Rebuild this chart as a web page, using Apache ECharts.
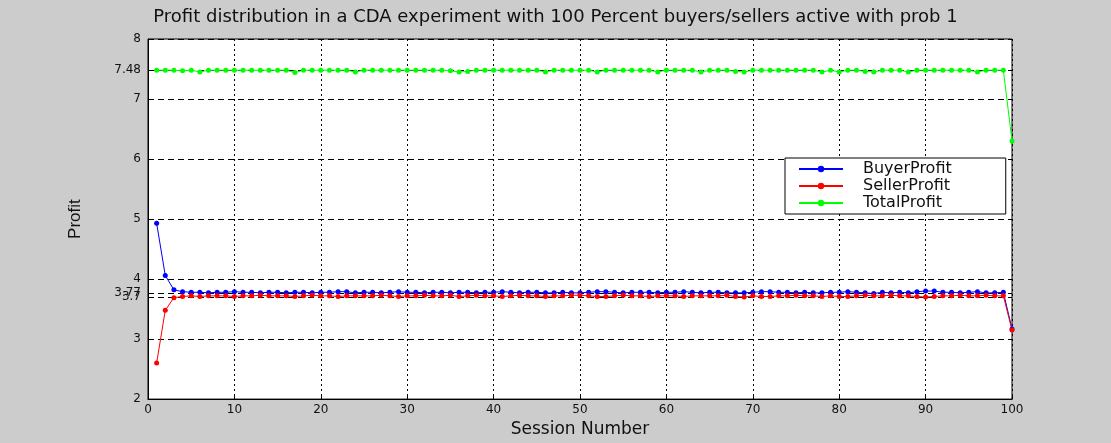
<!DOCTYPE html>
<html>
<head>
<meta charset="utf-8">
<script src="https://cdn.jsdelivr.net/npm/echarts@6/dist/echarts.min.js"></script>
<style>
  html, body { margin: 0; padding: 0; background: #cccccc; }
  #chart { width: 1111px; height: 443px; }
</style>
</head>
<body>
<div id="chart"></div>
<script>
// Session numbers 1..100
const sessions = [
  1, 2, 3, 4, 5, 6, 7, 8, 9, 10, 11, 12, 13, 14, 15, 16, 17, 18, 19, 20,
  21, 22, 23, 24, 25, 26, 27, 28, 29, 30, 31, 32, 33, 34, 35, 36, 37, 38, 39, 40,
  41, 42, 43, 44, 45, 46, 47, 48, 49, 50, 51, 52, 53, 54, 55, 56, 57, 58, 59, 60,
  61, 62, 63, 64, 65, 66, 67, 68, 69, 70, 71, 72, 73, 74, 75, 76, 77, 78, 79, 80,
  81, 82, 83, 84, 85, 86, 87, 88, 89, 90, 91, 92, 93, 94, 95, 96, 97, 98, 99, 100
];

const buyerProfit = [
  4.93, 4.06, 3.82, 3.79, 3.78, 3.78, 3.77, 3.78, 3.78, 3.79,
  3.78, 3.78, 3.77, 3.78, 3.78, 3.77, 3.78, 3.78, 3.77, 3.78,
  3.78, 3.79, 3.79, 3.77, 3.78, 3.78, 3.77, 3.78, 3.79, 3.78,
  3.78, 3.77, 3.78, 3.78, 3.77, 3.78, 3.78, 3.77, 3.78, 3.78,
  3.79, 3.78, 3.77, 3.78, 3.78, 3.77, 3.77, 3.78, 3.77, 3.77,
  3.78, 3.79, 3.79, 3.78, 3.77, 3.78, 3.78, 3.78, 3.77, 3.78,
  3.78, 3.79, 3.78, 3.77, 3.78, 3.78, 3.77, 3.77, 3.77, 3.78,
  3.79, 3.79, 3.78, 3.78, 3.77, 3.78, 3.77, 3.77, 3.78, 3.78,
  3.79, 3.78, 3.77, 3.76, 3.78, 3.77, 3.78, 3.77, 3.79, 3.80,
  3.80, 3.78, 3.78, 3.77, 3.78, 3.79, 3.77, 3.77, 3.78, 3.17
];

const sellerProfit = [
  2.60, 3.48, 3.69, 3.71, 3.72, 3.71, 3.72, 3.72, 3.72, 3.71,
  3.72, 3.72, 3.73, 3.72, 3.72, 3.72, 3.71, 3.72, 3.73, 3.72,
  3.72, 3.71, 3.72, 3.72, 3.72, 3.72, 3.73, 3.72, 3.71, 3.72,
  3.72, 3.73, 3.72, 3.72, 3.73, 3.71, 3.72, 3.73, 3.72, 3.72,
  3.71, 3.72, 3.73, 3.72, 3.72, 3.71, 3.72, 3.72, 3.73, 3.73,
  3.72, 3.71, 3.71, 3.72, 3.73, 3.72, 3.72, 3.71, 3.72, 3.72,
  3.72, 3.71, 3.72, 3.72, 3.72, 3.72, 3.73, 3.71, 3.70, 3.72,
  3.71, 3.71, 3.72, 3.72, 3.73, 3.72, 3.72, 3.71, 3.72, 3.71,
  3.71, 3.72, 3.73, 3.72, 3.72, 3.73, 3.72, 3.72, 3.71, 3.70,
  3.71, 3.72, 3.72, 3.73, 3.72, 3.72, 3.73, 3.72, 3.72, 3.15
];

const totalProfit = [
  7.48, 7.48, 7.48, 7.47, 7.48, 7.45, 7.48, 7.48, 7.48, 7.48,
  7.48, 7.48, 7.48, 7.48, 7.48, 7.48, 7.44, 7.48, 7.48, 7.48,
  7.48, 7.48, 7.48, 7.45, 7.48, 7.48, 7.48, 7.48, 7.48, 7.48,
  7.48, 7.48, 7.48, 7.48, 7.47, 7.45, 7.46, 7.48, 7.48, 7.48,
  7.48, 7.48, 7.48, 7.48, 7.48, 7.45, 7.48, 7.48, 7.48, 7.48,
  7.48, 7.45, 7.48, 7.48, 7.48, 7.48, 7.48, 7.48, 7.45, 7.48,
  7.48, 7.48, 7.48, 7.45, 7.48, 7.48, 7.48, 7.46, 7.45, 7.48,
  7.48, 7.48, 7.48, 7.48, 7.48, 7.48, 7.48, 7.45, 7.48, 7.45,
  7.48, 7.48, 7.46, 7.45, 7.48, 7.48, 7.48, 7.45, 7.48, 7.48,
  7.48, 7.48, 7.48, 7.48, 7.48, 7.45, 7.48, 7.48, 7.48, 6.30
];

// Tick positions
const xTicks = { min: 0, max: 100, step: 10 };
const yTicks = [2, 3, 3.7, 3.77, 4, 5, 6, 7, 7.48, 8];

const pairs = (ys) => sessions.map((s, i) => [s, ys[i]]);

const labelFont = 'DejaVu Sans, Liberation Sans, sans-serif';

function lineSeries(name, color, ys) {
  return {
    name: name,
    type: 'line',
    data: pairs(ys),
    symbol: 'circle',
    symbolSize: 5,
    showAllSymbol: true,
    lineStyle: { color: color, width: 1 },
    itemStyle: { color: color },
    emphasis: { disabled: true },
    animation: false
  };
}

const chart = echarts.init(document.getElementById('chart'), null, { renderer: 'canvas' });

chart.setOption({
  backgroundColor: '#cccccc',
  animation: false,
  title: {
    text: 'Profit distribution in a CDA experiment with 100 Percent buyers/sellers active with prob 1',
    left: 'center',
    top: 8,
    padding: 0,
    textStyle: { fontFamily: labelFont, fontSize: 18, fontWeight: 'normal', color: '#111' }
  },
  legend: {
    orient: 'vertical',
    left: 785,
    top: 158,
    data: ['BuyerProfit', 'SellerProfit', 'TotalProfit'],
    itemWidth: 44,
    itemHeight: 8,
    itemGap: 1,
    padding: [3, 54, 3, 13],
    backgroundColor: '#ffffff',
    borderColor: '#000000',
    borderWidth: 1,
    borderRadius: 0,
    selectedMode: false,
    textStyle: {
      fontFamily: labelFont, fontSize: 16, color: '#111',
      padding: [0, 0, 0, 15]
    }
  },
  grid: {
    left: 148,
    right: 99,
    top: 39,
    bottom: 43,
    show: true,
    backgroundColor: '#ffffff',
    borderColor: '#000000',
    borderWidth: 1
  },
  xAxis: {
    type: 'value',
    min: xTicks.min,
    max: xTicks.max,
    interval: xTicks.step,
    name: 'Session Number',
    nameLocation: 'middle',
    nameGap: 19,
    nameTextStyle: { fontFamily: labelFont, fontSize: 17, color: '#111' },
    axisLine: { show: true, onZero: false, lineStyle: { color: '#000', width: 1 } },
    axisTick: { show: true, inside: true, length: 4, lineStyle: { color: '#000' } },
    axisLabel: { fontFamily: labelFont, fontSize: 12, color: '#111', margin: 5 },
    splitLine: { show: true, lineStyle: { color: '#000', width: 1, type: [2, 3] } }
  },
  yAxis: {
    type: 'value',
    min: 2,
    max: 8,
    name: 'Profit',
    nameLocation: 'middle',
    nameRotate: 90,
    nameGap: 64,
    nameTextStyle: { fontFamily: 'Liberation Sans Narrow, Liberation Sans, sans-serif', fontSize: 17, color: '#111' },
    axisLine: { show: true, onZero: false, lineStyle: { color: '#000', width: 1 } },
    axisTick: { show: true, inside: true, length: 4, customValues: yTicks, lineStyle: { color: '#000' } },
    axisLabel: { fontFamily: labelFont, fontSize: 12, color: '#111', margin: 7, customValues: yTicks },
    splitLine: { show: true, lineStyle: { color: '#000', width: 1, type: [6, 4] } }
  },
  series: [
    lineSeries('BuyerProfit', '#0000ff', buyerProfit),
    lineSeries('SellerProfit', '#ff0000', sellerProfit),
    lineSeries('TotalProfit', '#00ff00', totalProfit)
  ]
});
</script>
</body>
</html>
